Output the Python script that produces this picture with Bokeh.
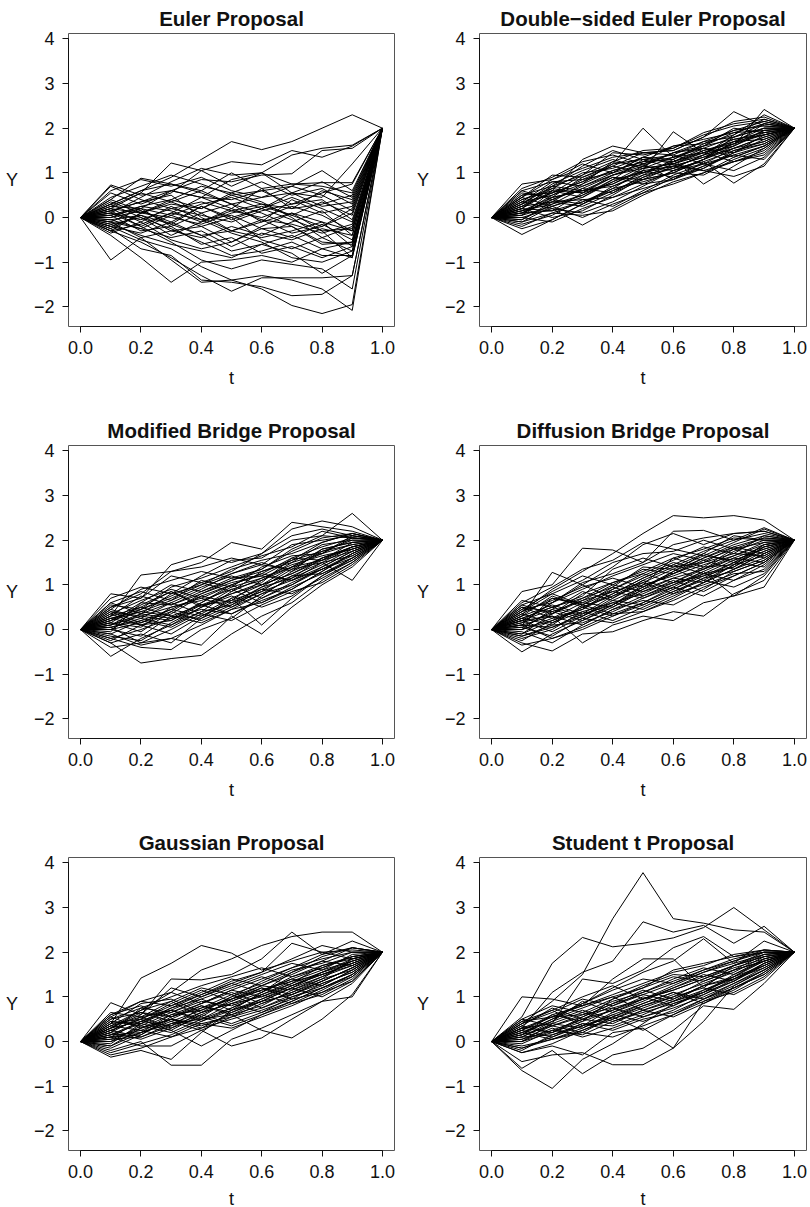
from bokeh.plotting import figure
from bokeh.models import ColumnDataSource, Range1d, FixedTicker
from bokeh.layouts import column, row
from bokeh.embed import file_html
from bokeh.resources import INLINE

# ---------------- data ----------------
t_grid = [0.0, 0.1, 0.2, 0.3, 0.4, 0.5, 0.6, 0.7, 0.8, 0.9, 1.0]
y_start = 0.0
y_end = 2.0

x_ticks = [0.0, 0.2, 0.4, 0.6, 0.8, 1.0]
x_tick_labels = ["0.0", "0.2", "0.4", "0.6", "0.8", "1.0"]
y_ticks = [-2, -1, 0, 1, 2, 3, 4]
y_tick_labels = ["\u22122", "\u22121", "0", "1", "2", "3", "4"]

titles = [
    "Euler Proposal",
    "Double\u2212sided Euler Proposal",
    "Modified Bridge Proposal",
    "Diffusion Bridge Proposal",
    "Gaussian Proposal",
    "Student t Proposal",
]
x_label = "t"
y_label = "Y"

# interior values of each path at t = 0.1 ... 0.9
euler_paths = [
    [0.30, 0.60, 0.90, 1.30, 1.70, 1.52, 1.70, 2.00, 2.30],
    [0.20, 0.55, 1.22, 1.05, 1.25, 1.18, 1.50, 1.35, 1.60],
    [0.10, 0.45, 0.80, 1.10, 0.95, 1.00, 1.40, 1.55, 1.62],
    [0.73, 0.50, 0.60, 0.85, 0.80, 0.95, 0.98, 1.50, 1.55],
    [0.40, 0.88, 0.75, 0.60, 1.00, 0.65, 0.75, 0.78, 0.78],
    [0.55, 0.30, 0.55, 1.05, 0.70, 1.00, 0.55, 0.45, 1.20],
    [0.25, 0.20, 0.60, 0.45, 0.40, 0.60, 0.70, 1.05, 0.60],
    [-0.30, 0.10, 0.30, 0.20, 0.50, 0.30, 0.20, 0.60, 0.40],
    [0.10, -0.20, 0.10, 0.45, 0.20, 0.65, 0.20, 0.30, 0.50],
    [-0.10, 0.20, -0.20, 0.10, 0.30, -0.10, 0.40, 0.10, 0.25],
    [0.35, 0.10, 0.00, -0.15, 0.10, 0.25, 0.05, -0.20, 0.10],
    [-0.20, -0.35, -0.10, 0.25, -0.05, 0.20, 0.45, 0.20, -0.10],
    [0.15, 0.35, 0.50, 0.00, -0.30, -0.10, 0.10, -0.30, -0.25],
    [-0.05, 0.05, -0.30, -0.45, -0.20, -0.40, -0.10, 0.15, -0.40],
    [0.20, -0.10, 0.25, -0.05, 0.05, -0.25, -0.45, -0.15, -0.50],
    [-0.35, -0.10, -0.50, -0.70, -0.55, -0.25, -0.20, -0.55, -0.60],
    [0.05, 0.25, 0.40, 0.20, 0.55, 0.35, 0.00, -0.45, -0.75],
    [-0.15, -0.40, -0.60, -0.75, -0.90, -0.60, -0.40, -0.70, -0.90],
    [0.30, 0.00, -0.25, -0.55, -0.85, -0.75, -0.55, -0.85, -0.85],
    [-0.95, -0.45, -0.30, -0.20, -0.55, -0.20, 0.10, -0.10, -0.30],
    [-0.40, -0.90, -1.45, -1.00, -0.95, -0.85, -1.00, -0.70, -0.55],
    [-0.25, -0.70, -0.85, -1.40, -1.45, -1.55, -1.75, -1.72, -1.30],
    [-0.30, -0.55, -0.90, -1.30, -1.65, -1.35, -1.35, -1.35, -1.30],
    [-0.20, -0.50, -0.70, -1.10, -1.40, -1.60, -1.97, -2.15, -1.95],
    [-0.10, -0.45, -0.95, -1.45, -1.40, -1.30, -1.40, -1.60, -2.08],
    [0.15, -0.20, -0.55, -0.95, -1.15, -0.95, -1.05, -1.15, -1.60],
    [0.00, 0.15, -0.10, -0.40, -0.75, -0.60, -0.80, -1.25, -0.85],
    [0.45, 0.70, 0.95, 0.75, 0.50, 0.60, 0.30, 0.40, -0.05],
    [0.60, 0.85, 0.70, 0.90, 0.60, 0.45, 0.55, 0.25, 0.35],
    [-0.25, 0.10, 0.35, 0.60, 0.30, 0.10, -0.20, -0.60, -0.55],
    [0.10, -0.05, 0.20, 0.05, -0.10, 0.15, 0.30, 0.55, 0.75],
    [0.70, 0.40, 0.20, 0.35, 0.15, 0.00, 0.25, 0.05, -0.30],
    [-0.05, -0.25, 0.05, -0.20, 0.00, -0.50, -0.70, -0.45, -0.20],
    [0.25, 0.55, 0.35, 0.10, -0.30, -0.45, -0.30, -0.10, -0.65],
    [-0.15, 0.00, -0.40, -0.10, 0.15, 0.30, 0.05, 0.35, 0.05],
    [0.05, 0.20, 0.05, 0.30, 0.45, 0.20, 0.55, 0.80, 0.45],
    [-0.30, -0.15, 0.10, -0.05, -0.35, -0.55, -0.90, -1.00, -0.75],
    [0.40, 0.15, -0.15, -0.40, -0.30, -0.05, -0.35, -0.20, 0.20],
    [0.15, 0.35, 0.60, 0.45, 0.85, 1.00, 0.75, 0.70, 0.55],
    [-0.20, 0.05, -0.15, 0.25, 0.00, 0.20, -0.05, -0.30, -0.90],
    [0.05, -0.30, -0.20, -0.60, -0.45, -0.80, -0.65, -0.90, -0.65],
    [0.30, 0.60, 0.75, 0.55, 0.30, 0.45, 0.70, 0.50, 0.15],
    [-0.10, -0.25, -0.45, -0.30, -0.65, -0.35, -0.50, -0.25, -0.40],
    [0.20, 0.10, 0.40, 0.70, 0.55, 0.80, 0.50, 0.65, 0.30],
    [0.00, 0.25, 0.15, -0.10, 0.20, -0.05, -0.15, -0.35, -0.15],
]

double_euler_paths = [
    [0.30, 0.55, 0.80, 1.20, 1.30, 1.25, 1.55, 1.80, 2.00],
    [0.10, 0.40, 0.65, 0.95, 1.10, 1.20, 1.40, 1.65, 1.85],
    [0.75, 0.85, 1.10, 1.35, 1.45, 1.40, 1.70, 1.95, 2.15],
    [-0.38, -0.05, 0.30, 0.60, 0.85, 1.00, 1.30, 1.55, 1.80],
    [0.20, 0.60, 1.30, 1.60, 1.45, 1.50, 1.80, 2.37, 2.05],
    [0.45, 0.95, 0.90, 1.20, 2.00, 1.35, 1.60, 1.75, 1.90],
    [0.05, 0.25, 0.45, 0.80, 1.05, 1.92, 1.45, 1.60, 2.42],
    [0.35, 0.20, -0.17, 0.20, 0.55, 0.90, 1.15, 1.40, 1.60],
    [-0.10, 0.10, 0.05, 0.15, 0.50, 0.80, 1.00, 1.25, 1.45],
    [0.50, 0.70, 0.95, 1.45, 1.40, 1.55, 1.90, 2.10, 2.20],
    [0.15, 0.45, 0.60, 0.70, 0.95, 1.10, 1.25, 0.77, 1.20],
    [0.25, 0.35, 0.75, 1.05, 1.25, 1.30, 0.75, 1.15, 1.55],
    [-0.05, 0.30, 0.50, 0.85, 1.00, 1.15, 1.05, 0.92, 1.15],
    [0.40, 0.65, 1.00, 1.10, 1.35, 1.60, 1.75, 1.90, 2.10],
    [0.00, -0.10, 0.20, 0.45, 0.75, 0.85, 1.10, 1.50, 1.70],
    [0.60, 0.80, 0.70, 0.95, 1.15, 1.05, 1.30, 1.60, 1.95],
    [0.20, 0.15, 0.35, 0.60, 0.90, 1.20, 1.50, 1.70, 1.75],
    [0.10, 0.50, 0.85, 1.00, 1.20, 1.45, 1.55, 1.35, 1.60],
    [0.30, 0.70, 1.15, 1.50, 1.30, 1.10, 1.40, 1.85, 2.30],
    [-0.15, 0.05, 0.40, 0.25, 0.60, 0.95, 1.20, 1.05, 1.35],
    [0.55, 0.45, 0.60, 0.90, 0.85, 1.15, 1.35, 1.55, 1.70],
    [0.15, 0.35, 0.25, 0.55, 0.95, 1.30, 1.60, 2.00, 1.90],
    [0.05, 0.60, 0.55, 0.75, 1.05, 0.90, 1.10, 1.45, 1.85],
    [0.45, 0.25, 0.50, 0.80, 1.15, 1.45, 1.70, 1.80, 2.10],
    [-0.20, 0.10, 0.35, 0.65, 0.80, 1.00, 0.95, 1.30, 1.55],
    [0.25, 0.55, 0.95, 1.25, 1.50, 1.55, 1.85, 2.05, 2.15],
    [0.35, 0.80, 0.85, 1.15, 1.00, 1.25, 1.50, 1.65, 1.95],
    [0.00, 0.20, 0.10, 0.35, 0.70, 1.05, 1.30, 1.70, 2.00],
    [0.65, 0.90, 1.25, 1.40, 1.20, 1.35, 1.45, 1.75, 1.85],
    [0.10, 0.40, 0.70, 1.00, 1.35, 1.20, 1.05, 1.25, 1.40],
    [-0.05, 0.35, 0.40, 0.45, 0.65, 0.85, 1.15, 1.45, 1.65],
    [0.50, 0.55, 0.80, 1.05, 1.25, 1.60, 1.65, 1.95, 2.05],
    [0.20, 0.00, 0.15, 0.50, 0.90, 1.10, 1.40, 1.60, 1.90],
    [0.30, 0.75, 1.05, 1.30, 1.10, 1.35, 1.55, 1.45, 1.75],
    [0.15, 0.30, 0.65, 0.55, 0.85, 1.00, 1.30, 1.80, 2.00],
    [0.40, 0.60, 0.45, 0.85, 1.30, 1.40, 1.20, 1.55, 1.80],
    [-0.25, -0.05, 0.30, 0.70, 1.00, 1.25, 1.45, 1.25, 1.50],
    [0.05, 0.45, 0.90, 1.15, 1.45, 1.50, 1.80, 2.15, 2.25],
    [0.60, 0.40, 0.30, 0.65, 1.05, 1.15, 1.35, 1.65, 2.10],
    [0.25, 0.65, 0.55, 0.95, 1.20, 0.85, 1.25, 1.50, 1.65],
    [0.10, 0.15, 0.55, 0.90, 0.75, 1.05, 1.20, 1.40, 1.30],
    [0.45, 0.85, 1.20, 1.00, 1.35, 1.30, 1.65, 1.85, 2.20],
    [-0.10, 0.25, 0.00, 0.30, 0.55, 0.75, 1.00, 1.35, 1.60],
    [0.35, 0.50, 0.75, 1.25, 1.15, 1.45, 1.60, 1.90, 1.95],
    [0.20, 0.70, 0.60, 0.75, 1.10, 1.20, 1.45, 1.70, 1.85],
]

modified_bridge_paths = [
    [0.30, 1.22, 1.30, 1.50, 1.95, 1.80, 2.40, 2.30, 2.20],
    [0.80, 0.70, 1.45, 1.65, 1.50, 1.70, 2.25, 2.43, 2.30],
    [0.10, 0.35, 0.80, 1.20, 1.55, 1.60, 2.00, 2.10, 2.60],
    [-0.60, -0.20, 0.10, 0.50, 0.80, 1.00, 1.40, 1.70, 2.10],
    [-0.30, -0.75, -0.65, -0.58, -0.10, 0.30, 0.60, 1.10, 1.50],
    [-0.20, -0.40, -0.45, 0.00, 0.25, 0.75, 1.20, 1.50, 1.10],
    [0.05, -0.30, -0.20, -0.35, 0.30, -0.10, 0.50, 1.00, 1.40],
    [0.20, 0.50, 0.30, 0.25, 0.70, 0.10, 0.70, 1.20, 1.60],
    [0.45, 0.90, 1.10, 1.30, 1.15, 1.35, 1.75, 2.05, 2.15],
    [0.60, 0.35, 0.60, 0.90, 1.25, 1.50, 1.30, 1.60, 1.85],
    [0.15, 0.05, 0.50, 0.65, 0.90, 1.10, 1.50, 1.70, 1.90],
    [-0.10, 0.20, 0.05, 0.40, 0.55, 0.85, 1.10, 1.40, 1.75],
    [0.35, 0.65, 0.90, 0.70, 1.00, 1.25, 1.60, 1.85, 2.05],
    [0.00, -0.15, 0.30, 0.15, 0.45, 0.60, 0.95, 1.25, 1.60],
    [0.25, 0.45, 0.75, 1.05, 0.85, 1.15, 1.40, 1.55, 1.95],
    [-0.25, 0.10, -0.10, 0.30, 0.65, 0.90, 0.80, 1.15, 1.50],
    [0.50, 0.80, 1.30, 1.40, 1.60, 1.45, 1.90, 2.00, 2.10],
    [0.10, 0.30, 0.20, 0.55, 0.35, 0.65, 0.90, 1.30, 1.70],
    [-0.05, 0.60, 0.55, 0.85, 1.10, 1.30, 1.55, 1.75, 2.00],
    [0.40, 0.15, 0.40, 0.20, 0.50, 0.80, 1.15, 1.45, 1.80],
    [0.70, 0.95, 0.80, 1.00, 1.35, 1.55, 1.70, 1.95, 2.15],
    [-0.40, -0.30, 0.00, 0.35, 0.20, 0.55, 0.85, 1.05, 1.45],
    [0.20, 0.40, 0.65, 0.95, 1.20, 1.00, 1.25, 1.60, 1.85],
    [0.05, 0.20, 0.45, 0.30, 0.60, 0.95, 1.35, 1.50, 1.65],
    [0.30, 0.75, 0.55, 0.80, 1.05, 1.20, 1.10, 1.35, 1.70],
    [-0.15, -0.25, 0.15, 0.50, 0.75, 0.50, 0.75, 1.20, 1.55],
    [0.55, 0.45, 0.95, 1.15, 1.40, 1.65, 1.85, 2.20, 2.05],
    [0.00, 0.35, 0.25, 0.60, 0.95, 1.15, 1.45, 1.65, 1.80],
    [0.25, 0.10, 0.35, 0.75, 0.60, 0.85, 1.30, 1.80, 1.95],
    [0.15, 0.55, 0.85, 0.55, 0.80, 1.05, 1.60, 1.55, 1.75],
    [-0.20, 0.00, 0.25, 0.45, 0.35, 0.70, 1.05, 1.35, 1.60],
    [0.45, 0.25, 0.10, 0.40, 0.85, 1.30, 1.50, 1.90, 2.00],
    [0.10, 0.45, 0.70, 1.00, 1.25, 1.45, 1.35, 1.75, 1.90],
    [0.35, 0.10, 0.20, 0.60, 1.00, 0.70, 1.00, 1.40, 1.75],
    [0.05, 0.25, 0.60, 0.35, 0.70, 1.00, 1.25, 1.55, 1.85],
    [0.60, 0.85, 0.65, 1.10, 0.95, 1.40, 1.65, 1.70, 2.05],
    [-0.10, -0.35, -0.20, 0.10, 0.45, 0.80, 1.00, 1.35, 1.65],
    [0.20, 0.60, 1.00, 0.85, 1.15, 1.20, 1.55, 1.95, 2.15],
    [0.40, 0.30, 0.50, 0.70, 0.50, 0.90, 1.20, 1.25, 1.55],
    [0.15, -0.05, 0.40, 0.80, 1.10, 1.35, 1.80, 2.10, 2.05],
    [-0.30, -0.10, -0.30, 0.25, 0.55, 0.95, 1.15, 1.60, 1.80],
    [0.30, 0.50, 0.85, 0.50, 0.90, 0.60, 0.90, 1.30, 1.70],
    [0.50, 0.70, 1.20, 1.05, 1.30, 1.70, 2.10, 2.25, 2.10],
    [0.00, 0.15, 0.45, 0.75, 1.00, 1.25, 1.10, 1.50, 1.85],
    [0.25, 0.40, 0.30, 0.55, 0.65, 1.10, 1.40, 1.80, 1.95],
]

diffusion_bridge_paths = [
    [0.40, 0.90, 1.30, 1.70, 2.15, 2.55, 2.50, 2.55, 2.45],
    [0.85, 1.00, 1.82, 1.78, 1.50, 2.20, 2.22, 2.00, 2.28],
    [0.20, 0.60, 1.00, 1.40, 1.90, 2.15, 1.90, 2.15, 2.20],
    [-0.50, -0.10, 0.20, 0.50, 0.90, 1.30, 1.60, 1.90, 2.10],
    [-0.30, -0.48, -0.10, -0.05, 0.20, 0.40, 0.30, 0.80, 1.10],
    [0.10, 0.30, -0.30, 0.10, 0.30, 0.20, 0.60, 0.75, 0.95],
    [0.30, 1.28, 1.00, 0.70, 1.10, 1.40, 1.70, 1.50, 1.90],
    [0.55, 0.80, 1.10, 1.50, 1.70, 1.75, 2.00, 1.80, 2.05],
    [0.00, 0.20, 0.50, 0.30, 0.60, 0.90, 1.20, 1.40, 1.75],
    [-0.15, 0.05, 0.30, 0.60, 0.80, 1.10, 0.85, 1.20, 1.50],
    [0.20, 0.45, 0.25, 0.55, 0.95, 1.25, 1.50, 1.70, 1.65],
    [0.65, 0.50, 0.70, 1.05, 1.30, 1.60, 1.40, 1.45, 1.85],
    [0.10, -0.20, 0.05, 0.35, 0.40, 0.70, 1.05, 1.35, 1.60],
    [0.35, 0.70, 0.60, 0.90, 1.25, 1.05, 1.35, 1.75, 2.00],
    [-0.10, 0.35, 0.70, 0.95, 0.75, 1.00, 1.25, 1.10, 1.45],
    [0.50, 0.25, 0.45, 0.80, 1.15, 1.45, 1.75, 2.00, 2.15],
    [0.15, 0.60, 0.90, 1.20, 1.45, 1.70, 1.55, 1.80, 1.95],
    [-0.20, 0.00, 0.40, 0.20, 0.50, 0.80, 1.00, 1.25, 1.30],
    [0.25, 0.10, 0.15, 0.40, 0.70, 1.00, 1.30, 0.75, 1.20],
    [0.45, 0.85, 1.20, 1.00, 1.35, 1.25, 1.60, 1.85, 1.70],
    [0.05, 0.40, 0.65, 0.85, 1.05, 1.35, 1.65, 1.55, 1.80],
    [-0.05, -0.30, 0.10, 0.45, 0.65, 0.55, 0.90, 1.30, 1.55],
    [0.30, 0.55, 0.35, 0.75, 1.00, 1.20, 1.45, 1.65, 1.90],
    [0.60, 0.95, 1.35, 1.55, 1.95, 1.80, 1.65, 1.95, 2.25],
    [0.00, 0.25, 0.60, 0.50, 0.85, 1.15, 1.05, 1.45, 1.65],
    [0.20, -0.05, 0.30, 0.65, 0.55, 0.85, 1.15, 1.50, 1.40],
    [0.40, 0.65, 0.95, 1.15, 0.95, 1.30, 1.70, 2.10, 2.00],
    [-0.25, 0.15, 0.50, 0.75, 1.10, 0.90, 1.25, 1.40, 1.85],
    [0.15, 0.35, 0.80, 1.05, 1.25, 1.55, 1.85, 1.70, 2.10],
    [0.50, 0.40, 0.20, 0.55, 0.90, 1.15, 1.35, 1.60, 1.50],
    [0.10, 0.70, 0.55, 0.35, 0.60, 0.95, 0.75, 1.10, 1.35],
    [-0.10, 0.20, 0.45, 0.90, 1.20, 1.50, 1.35, 1.65, 1.95],
    [0.35, 0.15, 0.40, 0.60, 0.45, 0.75, 1.05, 1.35, 1.70],
    [0.25, 0.50, 0.75, 1.35, 1.60, 1.40, 1.50, 1.85, 2.05],
    [0.05, -0.15, 0.25, 0.15, 0.40, 0.65, 0.95, 1.20, 1.50],
    [0.45, 0.60, 1.05, 1.25, 1.50, 1.90, 2.05, 2.15, 2.20],
    [0.20, 0.30, 0.10, 0.45, 0.75, 1.05, 1.20, 1.50, 1.75],
    [-0.35, -0.20, 0.00, 0.30, 0.55, 0.85, 1.10, 0.95, 1.25],
    [0.30, 0.75, 0.50, 0.80, 1.15, 1.45, 1.25, 1.55, 1.80],
    [0.55, 0.35, 0.65, 1.00, 0.85, 1.05, 1.40, 1.80, 1.60],
    [0.00, 0.45, 0.85, 0.65, 0.95, 1.25, 1.55, 1.35, 1.70],
    [0.10, 0.05, 0.35, 0.55, 1.00, 1.60, 1.80, 2.05, 2.00],
    [0.40, 0.80, 0.55, 0.95, 1.40, 1.35, 1.10, 1.45, 1.90],
    [-0.15, 0.10, 0.55, 0.85, 0.70, 0.95, 1.30, 1.60, 1.85],
    [0.25, 0.50, 0.30, 0.70, 1.05, 0.80, 1.15, 1.30, 1.55],
]

gaussian_paths = [
    [0.40, 1.42, 1.75, 2.15, 1.98, 1.60, 1.80, 2.00, 2.05],
    [0.87, 0.60, 1.40, 1.38, 1.50, 1.85, 2.45, 1.95, 2.25],
    [0.30, 0.70, 1.10, 1.60, 1.85, 2.15, 2.35, 2.45, 2.45],
    [-0.35, -0.20, -0.40, 0.20, 0.70, 1.10, 1.55, 1.80, 2.10],
    [-0.20, 0.00, -0.53, -0.53, 0.05, 0.30, 0.60, 0.90, 1.30],
    [0.10, -0.10, -0.10, 0.25, -0.10, 0.08, 0.50, 0.90, 1.00],
    [0.00, 0.20, 0.40, 0.50, 0.60, 0.25, 0.08, 0.50, 1.05],
    [0.25, 0.50, 0.25, -0.10, 0.25, 0.60, 0.90, 1.20, 1.50],
    [0.55, 0.90, 1.10, 0.85, 1.15, 1.40, 1.65, 1.85, 2.00],
    [0.15, 0.45, 0.70, 1.00, 1.30, 1.10, 1.45, 1.70, 1.90],
    [-0.10, 0.30, 0.50, 0.35, 0.60, 0.90, 1.20, 1.45, 1.70],
    [0.45, 0.35, 0.65, 0.90, 0.80, 1.05, 1.30, 1.55, 1.85],
    [0.20, 0.55, 0.90, 1.20, 1.05, 0.75, 1.00, 1.25, 1.60],
    [0.05, 0.10, 0.35, 0.60, 0.90, 1.20, 0.95, 1.10, 1.45],
    [0.60, 0.80, 0.55, 0.75, 1.05, 1.30, 1.60, 1.75, 2.00],
    [0.35, 0.25, 0.50, 0.40, 0.55, 0.85, 1.10, 1.35, 1.65],
    [-0.05, 0.40, 0.75, 1.05, 1.35, 1.55, 1.85, 2.15, 2.00],
    [0.30, 0.65, 0.45, 0.70, 0.95, 1.15, 1.35, 1.60, 1.80],
    [0.10, 0.25, 0.10, 0.30, 0.50, 0.70, 0.95, 1.30, 1.55],
    [0.50, 0.75, 1.00, 1.25, 1.45, 1.65, 1.45, 1.65, 1.90],
    [0.20, 0.05, 0.30, 0.55, 0.35, 0.60, 0.85, 1.05, 1.40],
    [0.40, 0.85, 0.95, 0.65, 0.85, 1.00, 1.25, 1.50, 1.75],
    [-0.15, 0.15, 0.55, 0.80, 0.65, 0.90, 1.20, 1.00, 1.35],
    [0.25, 0.50, 0.80, 1.10, 1.40, 1.25, 1.55, 1.90, 2.10],
    [0.65, 0.55, 0.70, 0.45, 0.75, 1.05, 0.85, 1.15, 1.50],
    [0.00, 0.35, 0.20, 0.50, 0.85, 1.10, 1.40, 1.25, 1.60],
    [0.35, 0.70, 0.90, 0.55, 0.95, 1.25, 1.50, 1.80, 1.70],
    [0.15, 0.20, 0.60, 0.85, 1.10, 0.85, 1.10, 1.40, 1.85],
    [0.45, 0.40, 0.25, 0.60, 0.40, 0.65, 1.00, 1.20, 1.45],
    [-0.25, -0.05, 0.15, 0.45, 0.70, 0.95, 1.25, 1.55, 1.75],
    [0.30, 0.60, 1.20, 1.00, 1.25, 1.50, 1.75, 1.60, 1.95],
    [0.10, 0.45, 0.35, 0.75, 0.95, 1.20, 1.05, 1.35, 1.65],
    [0.55, 0.30, 0.50, 0.80, 0.60, 0.80, 1.15, 1.45, 1.80],
    [0.20, 0.75, 0.65, 0.95, 1.20, 1.45, 1.25, 1.50, 1.70],
    [-0.10, 0.20, 0.45, 0.25, 0.55, 0.75, 1.05, 1.30, 1.55],
    [0.40, 0.50, 0.85, 1.15, 0.90, 1.15, 1.40, 1.65, 1.90],
    [0.05, 0.30, 0.60, 0.70, 1.00, 1.35, 1.65, 1.95, 2.10],
    [0.25, 0.10, 0.40, 0.65, 0.85, 0.65, 0.90, 1.20, 1.50],
    [0.50, 0.65, 0.55, 0.85, 1.15, 1.00, 1.30, 1.70, 1.85],
    [0.15, 0.40, 0.70, 0.50, 0.75, 1.05, 1.35, 1.50, 1.75],
    [-0.30, -0.15, 0.10, 0.40, 0.30, 0.55, 0.80, 1.10, 1.35],
    [0.35, 0.55, 0.30, 0.65, 1.00, 1.25, 1.15, 1.40, 1.60],
    [0.60, 0.90, 0.80, 1.05, 1.30, 1.55, 2.20, 2.00, 1.85],
    [0.10, 0.15, 0.50, 0.30, 0.65, 0.95, 1.20, 1.55, 1.80],
    [0.30, 0.45, 0.75, 0.95, 0.70, 0.90, 1.05, 1.35, 1.65],
]

student_t_paths = [
    [0.40, 0.90, 1.50, 2.75, 3.78, 2.75, 2.65, 2.50, 2.45],
    [0.55, 1.75, 2.33, 2.12, 2.20, 2.32, 2.55, 3.00, 2.50],
    [0.30, 1.10, 1.55, 1.80, 2.68, 2.45, 2.60, 2.20, 2.58],
    [1.00, 0.95, 0.80, 1.40, 1.85, 1.85, 1.20, 1.70, 2.00],
    [-0.65, -1.05, -0.40, -0.05, 0.40, 0.85, 1.10, 1.45, 1.80],
    [-0.60, -0.20, -0.72, -0.30, -0.15, 0.25, 0.80, 0.72, 1.30],
    [-0.45, -0.30, -0.25, -0.52, -0.52, -0.15, 0.45, 1.25, 1.60],
    [-0.25, -0.10, -0.30, 0.20, 0.30, -0.15, 0.90, 1.10, 1.45],
    [0.20, 0.50, 0.85, 1.20, 1.55, 1.80, 2.30, 1.75, 2.25],
    [0.10, 0.40, 1.40, 1.30, 1.60, 2.10, 2.35, 1.90, 2.05],
    [-0.15, 0.10, 0.35, 0.75, 0.95, 1.20, 1.45, 1.70, 1.90],
    [0.30, 0.55, 0.60, 0.90, 1.10, 1.35, 1.60, 1.80, 2.00],
    [0.05, 0.25, 0.50, 0.40, 0.70, 0.95, 1.25, 1.40, 1.70],
    [0.45, 0.70, 1.00, 1.25, 0.95, 1.15, 1.40, 1.65, 1.85],
    [0.15, 0.35, 0.20, 0.55, 0.85, 1.10, 0.95, 1.30, 1.60],
    [-0.10, 0.05, 0.30, 0.60, 0.45, 0.70, 1.05, 1.35, 1.75],
    [0.25, 0.60, 0.80, 1.05, 1.30, 1.55, 1.70, 1.95, 2.05],
    [0.00, 0.30, 0.10, 0.30, 0.55, 0.80, 1.10, 1.50, 1.80],
    [0.35, 0.20, 0.45, 0.70, 1.00, 0.80, 1.15, 1.40, 1.65],
    [0.10, 0.45, 0.70, 0.50, 0.80, 1.05, 1.30, 1.55, 1.90],
    [0.50, 0.80, 0.65, 0.95, 1.20, 1.45, 1.35, 1.60, 1.95],
    [-0.20, 0.15, 0.40, 0.25, 0.50, 0.65, 0.95, 1.20, 1.50],
    [0.20, 0.05, 0.25, 0.50, 0.75, 1.00, 1.20, 1.05, 1.40],
    [0.40, 0.65, 0.95, 0.80, 1.05, 1.30, 1.55, 1.75, 1.95],
    [0.00, 0.20, 0.55, 0.85, 1.15, 0.95, 1.25, 1.45, 1.70],
    [0.30, 0.40, 0.30, 0.65, 0.90, 1.20, 1.50, 1.35, 1.75],
    [0.15, 0.50, 0.75, 1.00, 0.70, 0.90, 1.15, 1.45, 1.85],
    [-0.05, 0.25, 0.15, 0.45, 0.70, 0.55, 0.85, 1.15, 1.55],
    [0.25, 0.10, 0.40, 0.35, 0.60, 0.90, 1.25, 1.60, 1.80],
    [0.45, 0.55, 0.85, 1.15, 1.40, 1.30, 1.60, 1.85, 2.00],
    [0.05, 0.35, 0.60, 0.75, 0.55, 0.75, 1.00, 1.30, 1.65],
    [0.35, 0.75, 0.50, 0.80, 1.10, 1.40, 1.65, 1.50, 1.85],
    [0.10, 0.15, 0.35, 0.60, 0.85, 1.10, 0.85, 1.20, 1.55],
    [-0.15, 0.05, 0.20, 0.10, 0.35, 0.60, 0.95, 1.25, 1.60],
    [0.20, 0.45, 0.90, 0.65, 0.95, 1.15, 1.40, 1.70, 1.90],
    [0.50, 0.35, 0.55, 0.85, 1.05, 0.90, 1.10, 1.35, 1.70],
    [0.15, 0.60, 0.45, 0.95, 1.25, 1.50, 1.45, 1.70, 1.95],
    [0.00, 0.40, 0.65, 0.45, 0.65, 0.85, 1.05, 1.40, 1.75],
    [0.30, 0.20, 0.50, 0.70, 0.95, 1.25, 1.55, 1.80, 2.05],
    [-0.25, -0.05, 0.25, 0.55, 0.80, 1.00, 1.35, 1.60, 1.80],
    [0.40, 0.70, 0.35, 0.55, 0.25, 0.60, 0.90, 1.20, 1.50],
    [0.25, 0.55, 0.80, 1.00, 1.20, 1.60, 1.75, 1.90, 2.00],
]

panel_paths = [
    euler_paths, double_euler_paths,
    modified_bridge_paths, diffusion_bridge_paths,
    gaussian_paths, student_t_paths,
]

# ---------------- styling / layout ----------------
FONT = "Liberation Sans"
X_RANGE = (-0.04, 1.04)
Y_RANGE = (-2.44, 4.12)
FRAME_W = [326, 327]
FRAME_H = 293
BORDER_LEFT = [68, 67]
BORDER_RIGHT = [18, 4]
BORDER_TOP = 33
BORDER_BOTTOM = [86, 86, 55]
XLABEL_STANDOFF = [11, 11, 8]


def make_panel(idx):
    col = idx % 2
    r = idx // 2
    p = figure(
        frame_width=FRAME_W[col], frame_height=FRAME_H,
        min_border_left=BORDER_LEFT[col], min_border_right=BORDER_RIGHT[col],
        min_border_top=BORDER_TOP, min_border_bottom=BORDER_BOTTOM[r],
        x_range=Range1d(*X_RANGE), y_range=Range1d(*Y_RANGE),
        output_backend="svg", toolbar_location=None,
        background_fill_color="white", border_fill_color="white",
    )
    xs = [t_grid for _ in panel_paths[idx]]
    ys = [[y_start] + list(v) + [y_end] for v in panel_paths[idx]]
    src = ColumnDataSource(dict(xs=xs, ys=ys))
    p.multi_line("xs", "ys", source=src, line_color="#000000", line_width=1.0)

    p.title.text = titles[idx]
    p.title.align = "center"
    p.title.text_font = FONT
    p.title.text_font_size = "20.5px"
    p.title.text_font_style = "bold"
    p.title.text_color = "#111111"
    p.title.standoff = 7
    p.title.offset = 0

    p.grid.visible = False
    p.outline_line_color = "#555555"
    p.outline_line_width = 1

    xa = p.xaxis[0]
    xa.ticker = FixedTicker(ticks=x_ticks)
    xa.major_label_overrides = dict(zip(x_ticks, x_tick_labels))
    xa.bounds = (x_ticks[0], x_ticks[-1])
    xa.axis_label = x_label

    ya = p.yaxis[0]
    ya.ticker = FixedTicker(ticks=y_ticks)
    ya.major_label_overrides = dict(zip(y_ticks, y_tick_labels))
    ya.bounds = (y_ticks[0], y_ticks[-1])
    ya.axis_label = y_label
    try:
        ya.axis_label_orientation = "horizontal"
    except Exception:
        pass

    for ax in (xa, ya):
        ax.minor_tick_line_color = None
        ax.major_tick_in = 0
        ax.major_tick_out = 6
        ax.axis_line_color = "#111111"
        ax.major_tick_line_color = "#111111"
        ax.major_label_text_font = FONT
        ax.major_label_text_font_size = "18px"
        ax.major_label_text_color = "#111111"
        ax.axis_label_text_font = FONT
        ax.axis_label_text_font_size = "18px"
        ax.axis_label_text_font_style = "normal"
        ax.axis_label_text_color = "#111111"
    xa.major_label_standoff = 8
    xa.axis_label_standoff = XLABEL_STANDOFF[r]
    ya.major_label_standoff = 8
    ya.axis_label_standoff = 13
    return p


panels = [make_panel(i) for i in range(6)]
layout = column(
    row(panels[0], panels[1]),
    row(panels[2], panels[3]),
    row(panels[4], panels[5]),
)

with open("out.html", "w") as f:
    f.write(file_html(layout, INLINE))
